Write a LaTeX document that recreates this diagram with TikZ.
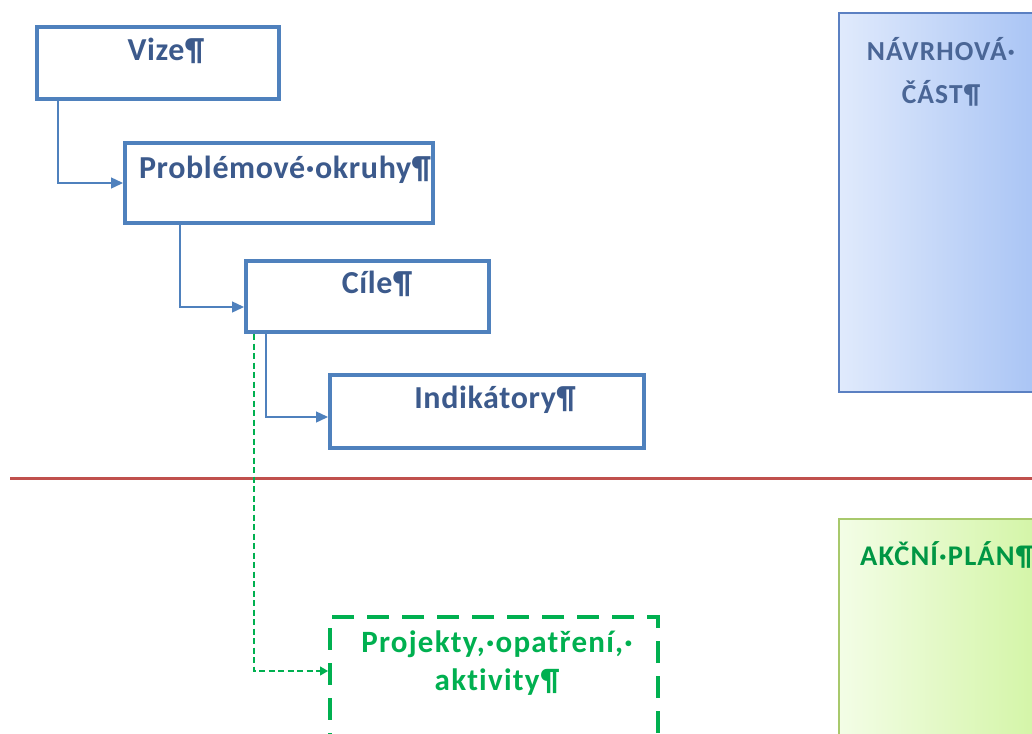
\documentclass[tikz,border=0pt]{standalone}
\usepackage{fontspec}
\setmainfont{Carlito}
\newfontfamily\lsbox[LetterSpace=2,Ligatures=NoCommon]{Carlito}
\newfontfamily\lswide[LetterSpace=4,Ligatures=NoCommon]{Carlito}
\newfontfamily\lsgreen[LetterSpace=4,Ligatures=NoCommon]{Carlito}
\usetikzlibrary{arrows.meta}
\definecolor{bluebd}{HTML}{4F81BD}
\definecolor{bluetx}{HTML}{3C5A8C}
\definecolor{navtx}{HTML}{4A6696}
\definecolor{greenbd}{HTML}{00B050}
\definecolor{redln}{HTML}{C0504D}
\definecolor{navL}{HTML}{E0EAFC}
\definecolor{navR}{HTML}{A3C0F4}
\definecolor{navbd}{HTML}{5B80C2}
\definecolor{akL}{HTML}{F3FDE6}
\definecolor{akR}{HTML}{D0F4A0}
\definecolor{akbd}{HTML}{A8C96C}
\tikzset{
  bbox/.style={draw=bluebd, line width=4pt, fill=white, inner sep=0pt},
  gbox/.style={draw=greenbd, line width=4pt, dash pattern=on 22pt off 13pt, inner sep=0pt},
  btext/.style={anchor=base, text=bluetx, font=\lsbox\fontsize{32}{38}\selectfont\bfseries, inner sep=0pt},
  gtext/.style={anchor=base, text=greenbd, font=\lsgreen\fontsize{31}{38}\selectfont\bfseries, inner sep=0pt, align=center},
  conn/.style={draw=bluebd, line width=1.4pt, -{Triangle[length=12pt,width=11pt]}},
  gconn/.style={draw=greenbd, line width=1.2pt, dash pattern=on 6pt off 3.5pt, -{Triangle[length=8pt,width=9pt]}},
}
\begin{document}
\begin{tikzpicture}[x=1pt,y=-1pt]
\clip (0,0) rectangle (1032,733);
\fill[white] (0,0) rectangle (1032,733);
% right panels
\node[draw=navbd, line width=1.5pt, left color=navL, right color=navR, minimum width=221pt, minimum height=379pt, inner sep=0pt] (nav) at (949.5,202.5) {};
\node[anchor=base, text=navtx, font=\lswide\fontsize{27.5}{43}\selectfont\bfseries, align=center, inner sep=0pt] (navT) at (941,103) {NÁVRHOVÁ·\\ČÁST¶};
\node[draw=akbd, line width=1.5pt, left color=akL, right color=akR, minimum width=221pt, minimum height=381pt, inner sep=0pt] (ak) at (949.5,709.5) {};
\node[anchor=base west, text=greenbd!85!black, font=\lswide\fontsize{28.5}{30}\selectfont\bfseries, inner sep=0pt] (akT) at (860,565) {AKČNÍ·PLÁN¶};
% red separator
\coordinate (rl) at (10,478);
\coordinate (rr) at (1032,478);
\draw[redln, line width=3pt] (rl) -- (rr);
% boxes
\node[bbox, minimum width=242pt, minimum height=72pt] (vize) at (158,63) {};
\node[bbox, minimum width=308pt, minimum height=80pt] (prob) at (279,183) {};
\node[bbox, minimum width=243pt, minimum height=71pt] (cile) at (367.5,296.5) {};
\node[bbox, minimum width=314pt, minimum height=73pt] (indik) at (487,411.5) {};
\node[gbox, minimum width=328pt, minimum height=173pt] (proj) at (494,703.5) {};
% texts
\node[btext] (vizeT) at (166,61) {Vize¶};
\node[btext] (probT) at (285,178) {Problémové·okruhy¶};
\node[btext] (cileT) at (377,293) {Cíle¶};
\node[btext] (indikT) at (495,408) {Indikátory¶};
\node[gtext] (projT) at (497,690) {Projekty,·opatření,·\\aktivity¶};
% connectors
\draw[conn] ([xshift=23pt]vize.south west) |- (prob.west);
\draw[conn] ([xshift=57pt]prob.south west) |- ([yshift=-10.5pt]cile.west);
\draw[conn] ([xshift=22pt]cile.south west) |- ([yshift=-5.5pt]indik.west);
\draw[gconn] ([xshift=10pt]cile.south west) |- ([yshift=-56pt]proj.north west);
\end{tikzpicture}
\end{document}
